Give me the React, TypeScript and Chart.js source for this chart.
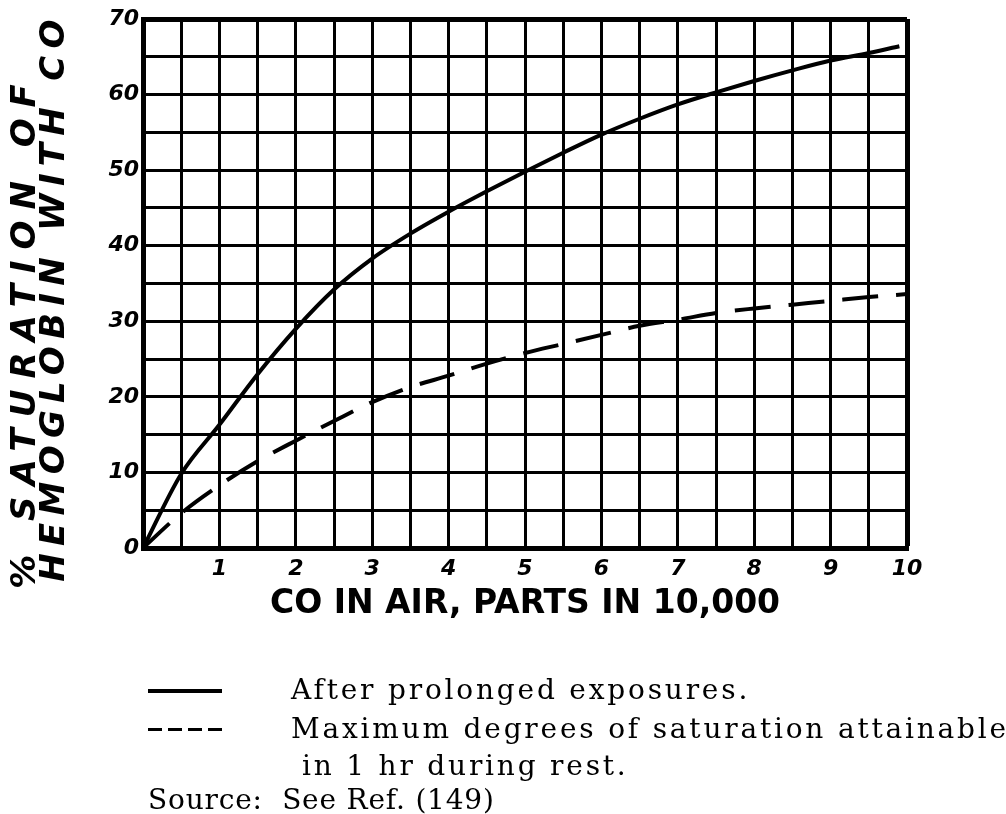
import React, { useEffect, useRef } from 'react';
import { Chart, registerables } from 'chart.js';

Chart.register(...registerables);

// CO in air, parts in 10,000
const prolongedX = [0, 0.5, 1, 1.5, 2, 2.5, 3, 3.5, 4, 4.5, 5, 5.5, 6, 6.5, 7, 7.5, 8, 8.5, 9, 9.5, 9.9];
// % saturation after prolonged exposures
const prolongedY = [0, 9.8, 16.3, 23.0, 29.0, 34.2, 38.3, 41.6, 44.5, 47.2, 49.8, 52.3, 54.7, 56.8, 58.7, 60.3, 61.8, 63.2, 64.5, 65.5, 66.4];

const restX = [0, 0.5, 1, 1.5, 2, 2.5, 3, 3.5, 4, 4.5, 5, 5.5, 6, 6.5, 7, 7.5, 8, 8.5, 9, 9.5, 10];
// maximum saturation attainable in 1 hr during rest
const restY = [0, 4.6, 8.3, 11.5, 14.2, 16.8, 19.3, 21.3, 22.8, 24.4, 25.8, 27.0, 28.2, 29.4, 30.2, 31.1, 31.7, 32.2, 32.7, 33.2, 33.6];

const xTickLabels = ['1', '2', '3', '4', '5', '6', '7', '8', '9', '10'];
const yTickLabels = ['0', '10', '20', '30', '40', '50', '60', '70'];

const xTitle = 'CO IN AIR, PARTS IN 10,000';
const yTitleLine1 = '% SATURATION OF';
const yTitleLine2 = 'HEMOGLOBIN WITH CO';

const legendSolid = 'After prolonged exposures.';
const legendDashed1 = 'Maximum degrees of saturation attainable';
const legendDashed2 = 'in 1 hr during rest.';
const sourceText = 'Source:  See Ref. (149)';

const W = 1006;
const H = 814;

export default function App() {
  const ref = useRef<HTMLCanvasElement | null>(null);

  useEffect(() => {
    if (!ref.current) return;
    const tickFont = { family: 'DejaVu Sans', size: 22, weight: 'bold' as const, style: 'italic' as const };
    const chart = new Chart(ref.current, {
      type: 'scatter',
      data: {
        datasets: [
          {
            label: legendSolid,
            data: prolongedX.map((x, i) => ({ x, y: prolongedY[i] })),
            showLine: true,
            borderColor: '#000',
            borderWidth: 4,
            pointRadius: 0,
            cubicInterpolationMode: 'monotone',
          },
          {
            label: legendDashed1 + ' ' + legendDashed2,
            data: restX.map((x, i) => ({ x, y: restY[i] })),
            showLine: true,
            borderColor: '#000',
            borderWidth: 4,
            borderDash: [36, 18],
            pointRadius: 0,
            cubicInterpolationMode: 'monotone',
          },
        ],
      },
      options: {
        responsive: false,
        animation: false,
        layout: { padding: { left: 0, top: 19, right: 99, bottom: 0 } },
        plugins: { legend: { display: false }, tooltip: { enabled: false } },
        scales: {
          x: {
            type: 'linear',
            min: 0,
            max: 10,
            afterFit: (scale: any) => {
              scale.height = 266;
            },
            ticks: {
              stepSize: 0.5,
              autoSkip: false,
              maxRotation: 0,
              padding: 8,
              color: '#000',
              font: tickFont,
              callback: (v: any) => {
                const n = Number(v);
                return Number.isInteger(n) && n >= 1 ? xTickLabels[n - 1] : '';
              },
            },
            grid: {
              color: '#000',
              lineWidth: (ctx: any) => (ctx.tick && ctx.tick.value === 10 ? 5 : 3),
              drawTicks: false,
            },
            border: { display: true, color: '#000', width: 5 },
            title: {
              display: true,
              text: xTitle,
              color: '#000',
              font: { family: 'DejaVu Sans', size: 33, weight: 'bold' },
              padding: { top: 0, bottom: 190 },
            },
          },
          y: {
            type: 'linear',
            min: 0,
            max: 70,
            afterFit: (scale: any) => {
              scale.width = 143;
            },
            ticks: {
              stepSize: 5,
              autoSkip: false,
              padding: 4,
              color: '#000',
              font: tickFont,
              callback: (v: any) => {
                const n = Number(v);
                return n % 10 === 0 ? yTickLabels[n / 10] : '';
              },
            },
            grid: {
              color: '#000',
              lineWidth: (ctx: any) => (ctx.tick && ctx.tick.value === 70 ? 5 : 3),
              drawTicks: false,
            },
            border: { display: true, color: '#000', width: 5 },
            title: { display: false },
          },
        },
      },
    });
    return () => chart.destroy();
  }, []);

  const textStyle: React.CSSProperties = {
    position: 'absolute',
    fontFamily: "'DejaVu Serif', serif",
    fontSize: 28,
    letterSpacing: '2.8px',
    lineHeight: '34px',
    color: '#000',
    whiteSpace: 'pre',
  };

  const yTitleStyle: React.CSSProperties = {
    position: 'absolute',
    fontFamily: "'DejaVu Sans', sans-serif",
    fontWeight: 'bold',
    fontStyle: 'italic',
    fontSize: 34,
    lineHeight: '34px',
    color: '#000',
    whiteSpace: 'pre',
    transform: 'translate(-50%, -50%) rotate(-90deg)',
  };

  return (
    <div style={{ position: 'absolute', left: 0, top: 0, width: W, height: H, background: '#fff', overflow: 'hidden' }}>
      <canvas ref={ref} width={W} height={H} style={{ display: 'block', width: W, height: H }} />
      <div style={{ ...yTitleStyle, left: 23, top: 331, letterSpacing: '11px' }}>{yTitleLine1}</div>
      <div style={{ ...yTitleStyle, left: 52, top: 297, letterSpacing: '7.3px' }}>{yTitleLine2}</div>
      <div style={{ position: 'absolute', left: 148, top: 689, width: 74, height: 4, background: '#000' }} />
      <div style={{ ...textStyle, left: 291, top: 673 }}>{legendSolid}</div>
      <div
        style={{
          position: 'absolute',
          left: 148,
          top: 728,
          width: 74,
          height: 3,
          background: 'repeating-linear-gradient(to right, #000 0px, #000 14px, transparent 14px, transparent 20px)',
        }}
      />
      <div style={{ ...textStyle, left: 291, top: 712 }}>{legendDashed1}</div>
      <div style={{ ...textStyle, left: 302, top: 749 }}>{legendDashed2}</div>
      <div style={{ ...textStyle, left: 148, top: 783, letterSpacing: '0.8px' }}>{sourceText}</div>
    </div>
  );
}
